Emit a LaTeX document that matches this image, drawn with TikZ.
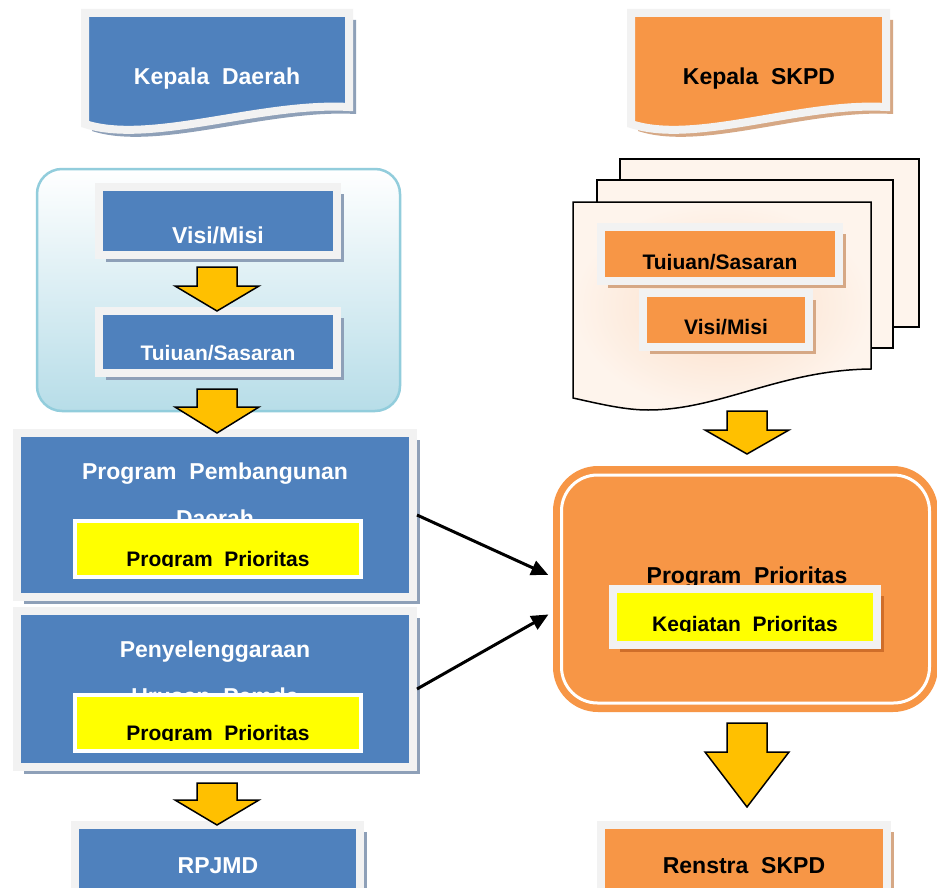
\documentclass[tikz,border=0pt]{standalone}
\usepackage{fontspec}
\setmainfont{Liberation Sans}
\usetikzlibrary{arrows.meta,shadows}

\definecolor{docblue}{HTML}{4F81BD}
\definecolor{docorange}{HTML}{F79646}
\definecolor{hiyellow}{HTML}{FFFF00}
\definecolor{arrowgold}{HTML}{FFC000}
\definecolor{framegray}{HTML}{F2F2F2}
\definecolor{blueshade}{HTML}{8EA0B8}
\definecolor{tanshade}{HTML}{D6A885}
\definecolor{rustshade}{HTML}{CF6E2A}
\definecolor{peach}{HTML}{FEF4EC}
\definecolor{peachglow}{HTML}{FBDDC6}
\definecolor{skyline}{HTML}{92CDDC}
\definecolor{skyfill}{HTML}{B7DDE8}

\tikzset{
  lbl/.style={font=\fontsize{23}{27}\selectfont\bfseries, inner sep=0pt, anchor=base},
  lblsmall/.style={lbl, font=\fontsize{21}{25}\selectfont\bfseries},
  panel/.style={rectangle, inner sep=0pt, draw=framegray, line width=8pt},
  bluebox/.style={panel, fill=docblue, drop shadow={shadow xshift=7pt, shadow yshift=-7pt, fill=blueshade, opacity=1}},
  orangebox/.style={panel, fill=docorange, drop shadow={shadow xshift=7pt, shadow yshift=-7pt, fill=tanshade, opacity=1}},
  yellowbox/.style={rectangle, inner sep=0pt, fill=hiyellow, draw=white, line width=4pt},
  page/.style={draw=black, line width=1.5pt, fill=peach},
  blockarrow/.style={fill=arrowgold, draw=black, line width=1.5pt, line join=miter},
  link/.style={line width=3pt, -{Triangle[length=17pt,width=15pt]}, shorten >=5pt}
}

\begin{document}
\begin{tikzpicture}[x=1pt, y=-1pt]
\useasboundingbox[fill=white] (0,0) rectangle (937,888);

% left column: Kepala Daerah
\fill[blueshade, shift={(7,7)}] (85,13) -- (349,13) -- (349,107) .. controls (260,102) and (150,145) .. (85,124) -- cycle;
\filldraw[fill=docblue, draw=framegray, line width=8pt] (85,13) -- (349,13) -- (349,107) .. controls (260,102) and (150,145) .. (85,124) -- cycle;
\node[lbl, white] (kd) at (217,85) {Kepala~~Daerah};

\node[rectangle, rounded corners=25pt, draw=skyline, line width=2.5pt, top color=white, bottom color=skyfill, minimum width=363pt, minimum height=242pt] (misi) at (218.5,290) {};
\node[bluebox, minimum width=238pt, minimum height=68pt] (vmL) at (218,221) {};
\node[lbl, white] (vmLt) at (218,243) {Visi/Misi};
\node[bluebox, minimum width=238pt, minimum height=62pt] (tsL) at (218,342) {};
\begin{scope}
  \clip (103,315) rectangle (333,359);
  \node[lblsmall, white] (tsLt) at (218,360) {Tujuan/Sasaran};
\end{scope}

\node[bluebox, minimum width=396pt, minimum height=164pt] (pbd) at (215,515) {};
\node[lbl, white] (pbdt) at (215,479) {Program~~Pembangunan};
\node[lbl, white] (pbdt2) at (215,526) {Daerah};
\node[yellowbox, minimum width=286pt, minimum height=56pt] (pp1) at (218,549) {};
\begin{scope}
  \clip (77,523) rectangle (359,566);
  \node[lblsmall] (pp1t) at (218,566) {Program~~Prioritas};
\end{scope}

\node[bluebox, minimum width=396pt, minimum height=156pt] (pud) at (215,689) {};
\node[lbl, white] (pudt) at (215,657) {Penyelenggaraan};
\node[lbl, white] (pudt2) at (215,704) {Urusan~~Pemda};
\node[yellowbox, minimum width=286pt, minimum height=56pt] (pp2) at (218,723) {};
\begin{scope}
  \clip (77,697) rectangle (359,740);
  \node[lblsmall] (pp2t) at (218,740) {Program~~Prioritas};
\end{scope}

\node[bluebox, minimum width=285pt, minimum height=70pt] (rpjmd) at (217.5,860) {};
\node[lbl, white] (rpjmdt) at (218,873) {RPJMD};

% right column: Kepala SKPD
\fill[tanshade, shift={(7,7)}] (631,13) -- (886,13) -- (886,107) .. controls (800,102) and (695,145) .. (631,124) -- cycle;
\filldraw[fill=docorange, draw=framegray, line width=8pt] (631,13) -- (886,13) -- (886,107) .. controls (800,102) and (695,145) .. (631,124) -- cycle;
\node[lbl] (ks) at (759,85) {Kepala~~SKPD};

% stacked pages
\path[page] (620,159) rectangle (919,327);
\path[page] (597,180) rectangle (893,348);
\path[page, inner color=peachglow, outer color=peach] (573,202) -- (871,202) -- (871,369) .. controls (780,370) and (720,410) .. (648,410) .. controls (625,410) and (600,404) .. (573,398) -- cycle;
\node[orangebox, minimum width=238pt, minimum height=54pt] (tsR) at (720,254) {};
\begin{scope}
  \clip (605,231) rectangle (835,269);
  \node[lblsmall] (tsRt) at (720,269) {Tujuan/Sasaran};
\end{scope}
\node[orangebox, minimum width=166pt, minimum height=54pt] (vmR) at (726,320) {};
\node[lblsmall] (vmRt) at (726,334) {Visi/Misi};

\node[rectangle, rounded corners=45pt, fill=docorange, inner sep=0pt, minimum width=385pt, minimum height=246pt] (ppr) at (745.5,589) {};
\node[rectangle, rounded corners=36pt, draw=white, line width=3pt, minimum width=368pt, minimum height=228pt] (pprin) at (ppr) {};
\node[lbl] (pprt) at (747,583) {Program~~Prioritas};
\node[panel, fill=hiyellow, minimum width=264pt, minimum height=56pt, drop shadow={shadow xshift=7pt, shadow yshift=-7pt, fill=rustshade, opacity=1}] (kp) at (745,617) {};
\begin{scope}
  \clip (617,593) rectangle (873,631);
  \node[lblsmall] (kpt) at (745,631) {Kegiatan~~Prioritas};
\end{scope}

\node[orangebox, minimum width=286pt, minimum height=70pt] (renstra) at (744,860) {};
\node[lbl] (renstrat) at (744,873) {Renstra~~SKPD};

% connectors
\draw[link] (pbd.east) -- ([yshift=12pt]ppr.west);
\draw[link] (pud.east) -- ([yshift=-23pt]ppr.west);

% block arrows
\foreach \cx/\ya/\yb/\yc in {217/267/286/311, 217/389/407/433, 217/783/800/825, 747/411/430/454, 747/723/752/807}
  \draw[blockarrow] (\cx-20,\ya) -- (\cx+20,\ya) -- (\cx+20,\yb) -- (\cx+42,\yb) -- (\cx,\yc) -- (\cx-42,\yb) -- (\cx-20,\yb) -- cycle;
\end{tikzpicture}
\end{document}
